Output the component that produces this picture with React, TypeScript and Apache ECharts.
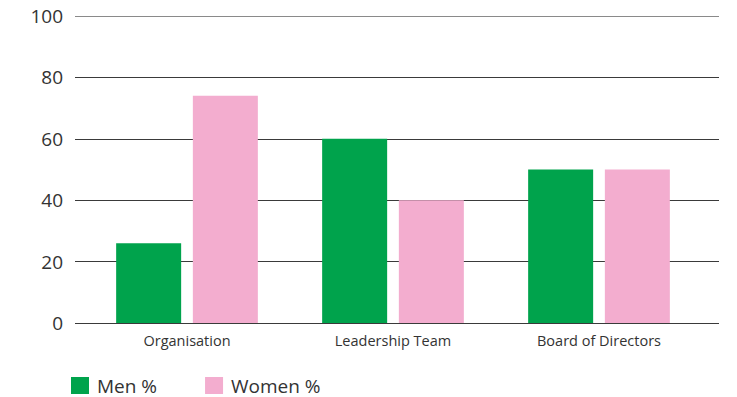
import React, { useEffect, useRef } from "react";
import * as echarts from "echarts";

const categories = ["Organisation", "Leadership Team", "Board of Directors"];
const menValues = [26, 60, 50];
const womenValues = [74, 40, 50];
const seriesNames = ["Men %", "Women %"];

export default function App() {
  const ref = useRef<HTMLDivElement>(null);
  useEffect(() => {
    const chart = echarts.init(ref.current!, undefined, { renderer: "svg" });
    const font = "'Open Sans', sans-serif";
    chart.setOption({
      animation: false,
      textStyle: { fontFamily: font },
      legend: {
        left: 71,
        top: 376,
        padding: 0,
        itemWidth: 18,
        itemHeight: 17,
        itemGap: 48,
        icon: "rect",
        data: seriesNames,
        textStyle: { fontSize: 19, color: "#333", fontFamily: font, padding: [0, 0, 0, 3] },
      },
      grid: [
        { left: 75, right: 18, top: 16, bottom: 74 },
        { left: 84, right: 35, top: 16, bottom: 74 },
      ],
      xAxis: [
        { type: "category", gridIndex: 0, data: categories, show: false },
        {
          type: "category",
          gridIndex: 1,
          data: categories,
          axisLine: { show: false },
          axisTick: { show: false },
          axisLabel: { fontSize: 14.5, color: "#333", margin: 10, fontFamily: font },
        },
      ],
      yAxis: [
        {
          type: "value",
          gridIndex: 0,
          min: 0,
          max: 100,
          interval: 20,
          axisLine: { show: false },
          axisTick: { show: false },
          axisLabel: { fontSize: 19, color: "#333", margin: 12, fontFamily: font },
          splitLine: {
            lineStyle: {
              color: ["#3a3a3a", "#3a3a3a", "#3a3a3a", "#3a3a3a", "#3a3a3a", "#8a8a8a"],
              width: 1.2,
            },
          },
        },
        { type: "value", gridIndex: 1, min: 0, max: 100, interval: 20, show: false },
      ],
      series: [
        {
          name: seriesNames[0],
          type: "bar",
          xAxisIndex: 1,
          yAxisIndex: 1,
          data: menValues,
          barWidth: 65,
          barGap: "18%",
          itemStyle: { color: "#00A34C" },
        },
        {
          name: seriesNames[1],
          type: "bar",
          xAxisIndex: 1,
          yAxisIndex: 1,
          data: womenValues,
          barWidth: 65,
          barGap: "18%",
          itemStyle: { color: "#F3ADCF" },
        },
      ],
    });
    return () => chart.dispose();
  }, []);
  return <div ref={ref} style={{ width: 737, height: 397, position: "absolute", left: 0, top: 0 }} />;
}
